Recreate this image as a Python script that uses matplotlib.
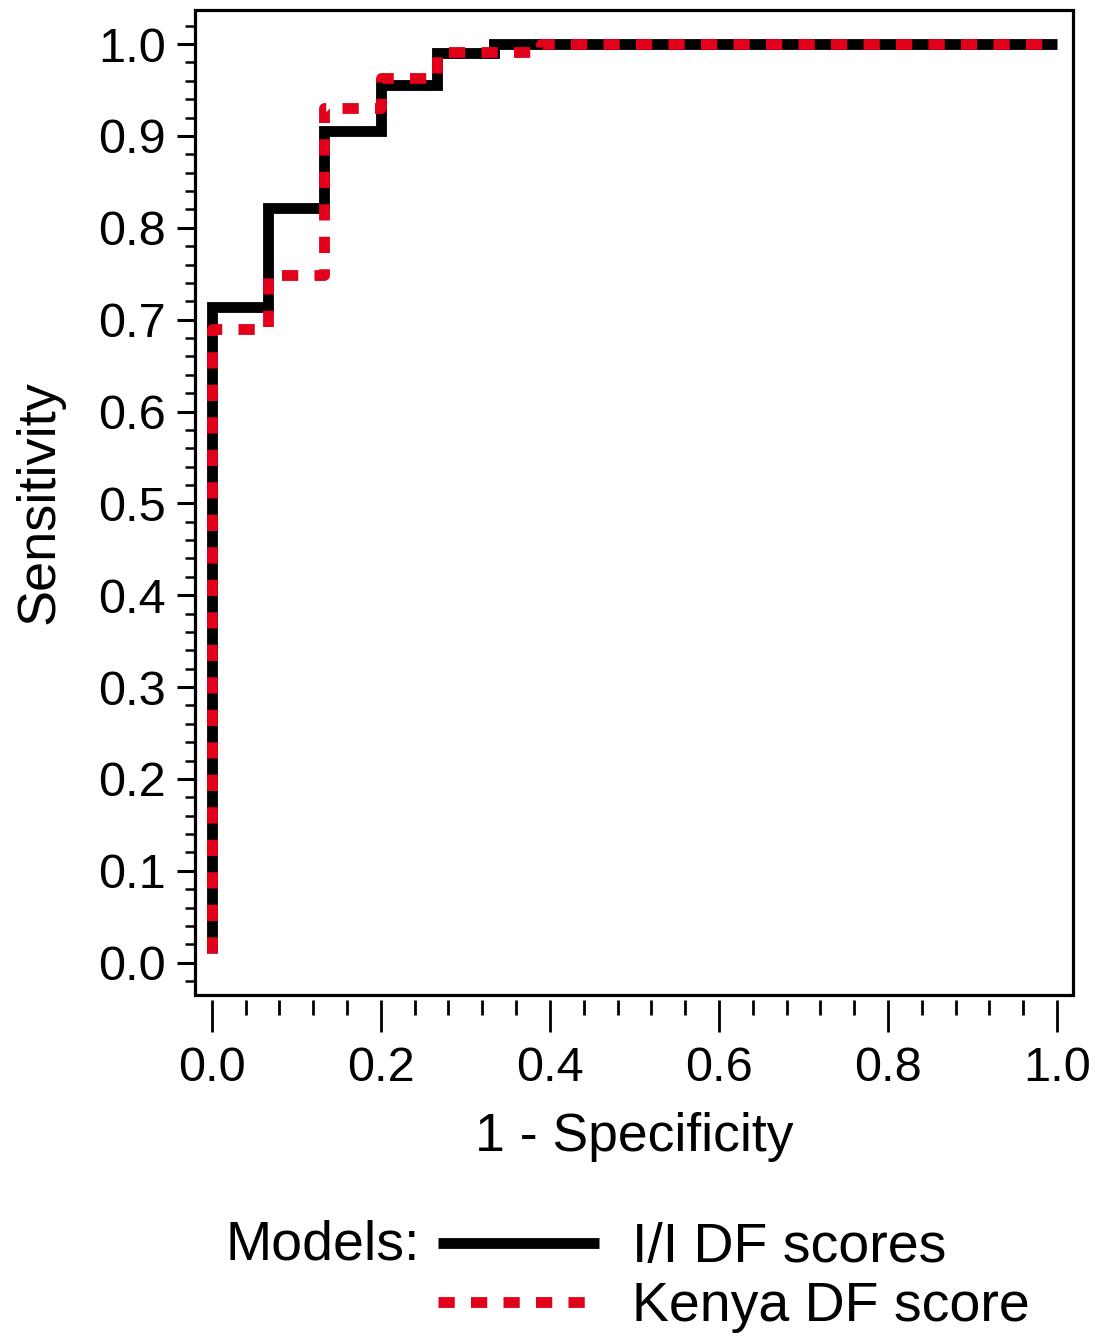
import matplotlib.pyplot as plt
from matplotlib.patches import Rectangle
from matplotlib.ticker import MultipleLocator

plt.rcParams["font.family"] = ["Liberation Sans", "DejaVu Sans"]

# ROC steps (1 - specificity, sensitivity)
ii_fpr = [0.0, 0.0, 0.0667, 0.0667, 0.1333, 0.1333, 0.2, 0.2, 0.2667, 0.2667, 0.3333, 0.3333, 1.0]
ii_tpr = [0.011, 0.714, 0.714, 0.821, 0.821, 0.905, 0.905, 0.955, 0.955, 0.990, 0.990, 1.0, 1.0]

kenya_fpr = [0.0, 0.0, 0.0667, 0.0667, 0.1333, 0.1333, 0.2, 0.2, 0.2667, 0.2667, 0.39, 0.39, 1.0]
kenya_tpr = [0.011, 0.690, 0.690, 0.749, 0.749, 0.930, 0.930, 0.963, 0.963, 0.991, 0.991, 1.0, 1.0]

labels = ["I/I DF scores", "Kenya DF score"]
red = "#e2001a"

fig = plt.figure(figsize=(10.95, 13.39), dpi=100)
ax = fig.add_axes([0.178, 0.257, 0.802, 0.7355])

l1, = ax.plot(ii_fpr, ii_tpr, color="black", lw=7.8, solid_joinstyle="miter",
              solid_capstyle="butt", label=labels[0])
l2, = ax.plot(kenya_fpr, kenya_tpr, color=red, lw=7.8, dashes=(1.5, 1.5),
              dash_capstyle="butt", label=labels[1])

ax.set_xlim(-0.02, 1.019)
ax.set_ylim(-0.035, 1.037)

ax.xaxis.set_major_locator(MultipleLocator(0.2))
ax.xaxis.set_minor_locator(MultipleLocator(0.04))
ax.yaxis.set_major_locator(MultipleLocator(0.1))
ax.yaxis.set_minor_locator(MultipleLocator(0.02))
ax.xaxis.set_major_formatter(plt.FormatStrFormatter("%.1f"))
ax.yaxis.set_major_formatter(plt.FormatStrFormatter("%.1f"))

for s in ax.spines.values():
    s.set_visible(False)
ax.spines["bottom"].set_position(("outward", 4))
ax.add_patch(Rectangle((0, 0), 1, 1, transform=ax.transAxes, fill=False,
                       lw=2.3, edgecolor="black", clip_on=False, zorder=5))

ax.tick_params(axis="x", which="major", direction="out", length=23, width=2, pad=10, labelsize=35)
ax.tick_params(axis="x", which="minor", direction="out", length=11, width=2)
ax.tick_params(axis="y", which="major", direction="out", length=13, width=2.2, pad=8, labelsize=35)
ax.tick_params(axis="y", which="minor", direction="out", length=7, width=1.8)

ax.set_xlabel("1 - Specificity", fontsize=38.5, labelpad=15)
ax.set_ylabel("Sensitivity", fontsize=39, labelpad=24)

fig.legend(handles=[l1, l2], labels=labels, loc="upper left",
           bbox_to_anchor=(438 / 1095, 1 - 1222 / 1339), frameon=False,
           fontsize=40, handlelength=2.9, handletextpad=0.6, labelspacing=0.13,
           borderpad=0, borderaxespad=0)
fig.text(420 / 1095, 1 - 1245 / 1339, "Models:", fontsize=40, ha="right", va="center")

fig.savefig("out.png", dpi=100)
